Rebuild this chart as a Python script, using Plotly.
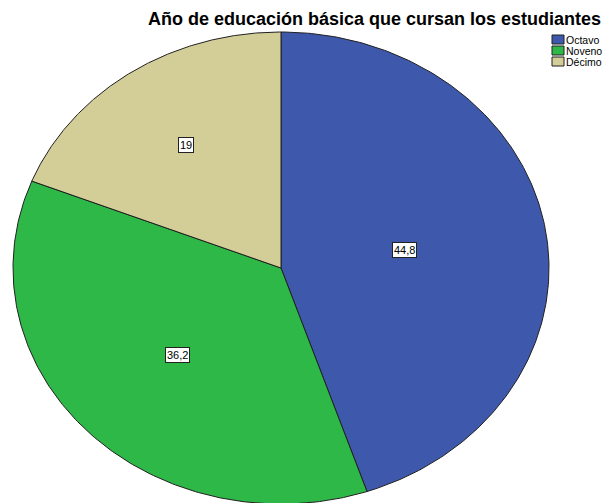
import numpy as np
import plotly.graph_objects as go

# ---- data ----
categories = ["Octavo", "Noveno", "Décimo"]
values = [44.8, 36.2, 19.0]
value_labels = ["44,8", "36,2", "19"]
colors = ["#3E58AC", "#2EB848", "#D3CE97"]
title_text = "Año de educación básica que cursan los estudiantes"

# ---- layout constants (pixels, in screenshot coordinates) ----
OFF = 8                      # page body margin
W, H = 612 - OFF, 503 - OFF  # figure size
CX, CY, RX, RY = 281 - OFF, 268 - OFF, 268, 236
EDGE = "#202020"
FONT = "Liberation Sans, Arial, sans-serif"


def px(x):
    return (x - OFF) / W


def py(y):
    return 1 - (y - OFF) / H


fig = go.Figure()
total = sum(values)
start = 0.0
for cat, val, lab, col in zip(categories, values, value_labels, colors):
    a0 = 2 * np.pi * start / total
    a1 = 2 * np.pi * (start + val) / total
    t = np.linspace(a0, a1, 200)
    xs = np.concatenate([[0], np.sin(t), [0]])
    ys = np.concatenate([[0], np.cos(t), [0]])
    fig.add_trace(go.Scatter(x=xs, y=ys, fill="toself", fillcolor=col, mode="lines",
                             line=dict(color=EDGE, width=1), name=cat,
                             hoverinfo="skip", showlegend=False))
    # label at sector centroid
    half = (a1 - a0) / 2
    mid = a0 + half
    frac = 2.0 / 3.0 * np.sin(half) / half
    fig.add_annotation(x=frac * np.sin(mid), y=frac * np.cos(mid), text=lab,
                       showarrow=False, bgcolor="white", bordercolor="#222222",
                       borderwidth=1, borderpad=1,
                       font=dict(family=FONT, size=11, color="black"))
    start += val

# manual legend
for i, (cat, col) in enumerate(zip(categories, colors)):
    y_top = 35 + 11 * i
    fig.add_shape(type="rect", xref="paper", yref="paper",
                  x0=px(552), x1=px(564), y0=py(y_top), y1=py(y_top + 9),
                  fillcolor=col, line=dict(color=EDGE, width=1))
    fig.add_annotation(xref="paper", yref="paper", x=px(564), y=py(y_top + 5),
                       xanchor="left", yanchor="middle", text=cat, showarrow=False,
                       font=dict(family=FONT, size=10.5, color="black"))

# title
fig.add_annotation(xref="paper", yref="paper", x=px(603), y=py(19),
                   xanchor="right", yanchor="middle", text=title_text, showarrow=False,
                   font=dict(family=FONT, size=18, color="black", weight="bold"))

fig.update_xaxes(range=[-CX / RX, (W - CX) / RX], visible=False, fixedrange=True)
fig.update_yaxes(range=[-(H - CY) / RY, CY / RY], visible=False, fixedrange=True)
fig.update_layout(width=W, height=H, margin=dict(l=0, r=0, t=0, b=0),
                  paper_bgcolor="white", plot_bgcolor="white", showlegend=False)

fig.write_html("out.html")
